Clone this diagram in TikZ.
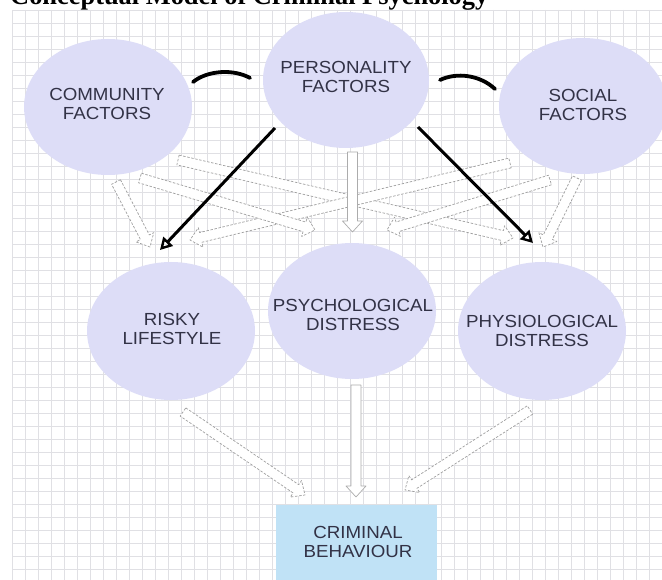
\documentclass[tikz,border=0pt]{standalone}
\usepackage{fontspec}
\setmainfont{Liberation Sans}
\newfontfamily\titlefont{Liberation Serif}
\newfontfamily\lblfont{Liberation Sans}[FakeStretch=1.07]
\usetikzlibrary{shapes.geometric,calc,arrows.meta}
\definecolor{lav}{RGB}{221,221,247}
\definecolor{crimblue}{RGB}{192,226,246}
\definecolor{txt}{RGB}{50,50,70}
\definecolor{gridc}{RGB}{224,224,228}
\newcommand\hollowarr[3][]{%
  \coordinate (hh) at ($(#3)!11pt!(#2)$);
  \draw[hollowline,#1] ($(#2)!5pt!90:(#3)$) -- ($(hh)!5pt!90:(#3)$) -- ($(hh)!10pt!90:(#3)$) -- (#3)
    -- ($(hh)!10pt!-90:(#3)$) -- ($(hh)!5pt!-90:(#3)$) -- ($(#2)!5pt!-90:(#3)$) -- cycle;
}
\begin{document}
\begin{tikzpicture}[x=1pt,y=-1pt,
  blob/.style={ellipse, fill=lav, draw=none, inner sep=0pt, minimum width=168pt, minimum height=136pt},
  lbl/.style={font=\lblfont\fontsize{17.5}{19}\selectfont, text=txt, align=center, inner sep=0pt},
  crimbox/.style={rectangle, fill=crimblue, draw=none, inner sep=0pt, minimum width=161pt, minimum height=80pt},
  gridline/.style={draw=gridc, line width=0.6pt},
  blackarrow/.style={line width=3pt, -{Triangle[open,length=12pt,width=13pt,line width=2.4pt]}},
  arcline/.style={line width=3.8pt, line cap=round},
  hollowline/.style={draw=gray!75, fill=white, line width=0.7pt, dash pattern=on 2.5pt off 1.6pt, line join=round},
  solidhollow/.style={dash pattern=on 100pt off 0pt, draw=gray!65}
]
\useasboundingbox (0,0) rectangle (662,580);
\fill[white] (0,0) rectangle (662,580);
% grid
\foreach \x in {12,25,...,662} \draw[gridline] (\x,10) -- (\x,580);
\foreach \y in {10,23,...,580} \draw[gridline] (12,\y) -- (662,\y);
% title
\node[anchor=base west, inner sep=0pt, font=\titlefont\bfseries\fontsize{26.4}{30}\selectfont] (title) at (10,4.5) {Conceptual Model of Criminal Psychology};
% circles
\node[blob] (comm) at (108,107) {};
\node[blob, minimum width=166pt] (pers) at (346,80) {};
\node[blob] (soc) at (583,106) {};
\node[blob, minimum height=138pt] (risky) at (171,331) {};
\node[blob] (psych) at (352,311) {};
\node[blob, minimum height=138pt] (physio) at (542,331) {};
\node[crimbox] (crim) at (356.5,545) {};
% coordinates for connectors
\coordinate (c2rA) at (116,182);  \coordinate (c2rB) at (150,247);
\coordinate (c2psA) at (140,178); \coordinate (c2psB) at (315,230);
\coordinate (c2phA) at (178,160); \coordinate (c2phB) at (513,238);
\coordinate (s2rA) at (510,163);  \coordinate (s2rB) at (190,240);
\coordinate (s2psA) at (550,180); \coordinate (s2psB) at (387,230);
\coordinate (s2phA) at (577,178); \coordinate (s2phB) at (543,247);
\coordinate (p2psA) at (352.5,152); \coordinate (p2psB) at (352.5,232);
\coordinate (ps2cA) at (356,385); \coordinate (ps2cB) at (356,497);
\coordinate (r2cA) at (183,412);  \coordinate (r2cB) at (305,495);
\coordinate (ph2cA) at (530,410); \coordinate (ph2cB) at (405,490);
\coordinate (blA) at (275,128); \coordinate (blB) at (160,250);
\coordinate (brA) at (418,127); \coordinate (brB) at (533,243);
\coordinate (alA) at (193,82); \coordinate (alB) at (250,78);
\coordinate (arA) at (440,80); \coordinate (arB) at (495,89);
% hollow arrows
\hollowarr{c2phA}{c2phB}
\hollowarr{s2rA}{s2rB}
\hollowarr{c2psA}{c2psB}
\hollowarr{s2psA}{s2psB}
\hollowarr{c2rA}{c2rB}
\hollowarr{s2phA}{s2phB}
\hollowarr[solidhollow]{p2psA}{p2psB}
\hollowarr[solidhollow]{ps2cA}{ps2cB}
\hollowarr{r2cA}{r2cB}
\hollowarr{ph2cA}{ph2cB}
% black arrows
\draw[blackarrow] (blA) -- (blB);
\draw[blackarrow] (brA) -- (brB);
% arcs
\draw[arcline] (alA) .. controls (208,70) and (234,69) .. (alB);
\draw[arcline] (arA) .. controls (457,72) and (480,75) .. (arB);
% labels
\node[lbl] (commT) at (107,104) {COMMUNITY\\FACTORS};
\node[lbl] (persT) at (346,77) {PERSONALITY\\FACTORS};
\node[lbl] (socT) at (583,105) {SOCIAL\\FACTORS};
\node[lbl] (riskyT) at (172,329) {RISKY\\LIFESTYLE};
\node[lbl] (psychT) at (353,315) {PSYCHOLOGICAL\\DISTRESS};
\node[lbl] (physioT) at (542,331) {PHYSIOLOGICAL\\DISTRESS};
\node[lbl] (crimT) at (358,541.5) {CRIMINAL\\BEHAVIOUR};
\end{tikzpicture}
\end{document}
